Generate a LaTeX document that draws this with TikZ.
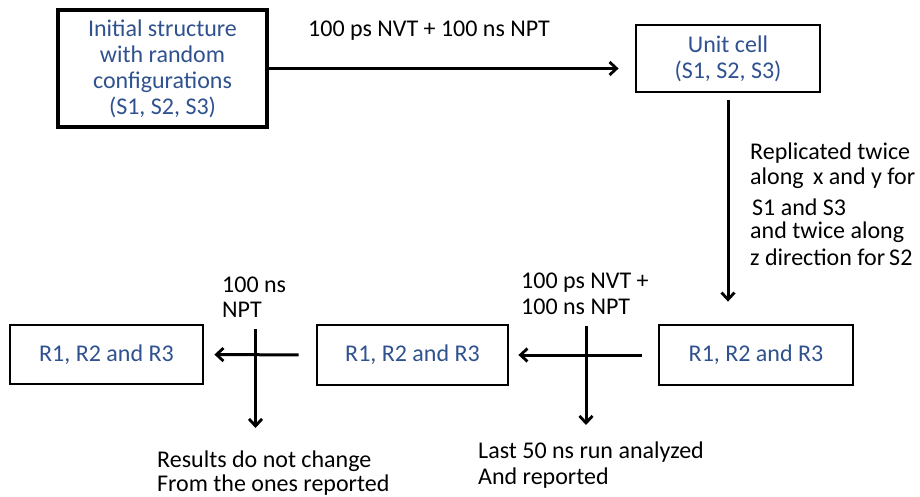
\documentclass[tikz,border=0pt]{standalone}
\usepackage{fontspec}
\setmainfont{Carlito}
\usetikzlibrary{arrows.meta}
\definecolor{boxblue}{RGB}{47,82,143}
\begin{document}
\begin{tikzpicture}[x=1pt,y=-1pt,
  box/.style={draw=black,line width=2.8pt,rectangle,inner sep=0pt,align=center,
    text=boxblue,font=\fontsize{24}{26}\selectfont},
  conn/.style={line width=3pt,-{Straight Barb[length=7pt,width=13pt,line width=2.8pt]}},
  lbl/.style={anchor=west,inner sep=0pt,font=\fontsize{24}{25}\selectfont,align=left}]
\useasboundingbox (0,0) rectangle (920,497);
\node[box,line width=3.6pt,minimum width=209pt,minimum height=117pt] (init) at (162.5,68.5)
  {Initial structure\\with random\\configurations\\(S1, S2, S3)};
\node[box,minimum width=184pt,minimum height=67pt] (unit) at (728,58.5)
  {Unit cell\\(S1, S2, S3)};
\node[box,minimum width=194pt,minimum height=60pt] (rc) at (756,355) {R1, R2 and R3};
\node[box,minimum width=191pt,minimum height=60pt] (rd) at (412.5,355) {R1, R2 and R3};
\node[box,minimum width=193pt,minimum height=59pt] (re) at (106.5,354.5) {R1, R2 and R3};

\draw[conn,shorten >=16pt] (init.east) -- (init.east -| unit.west);
\draw[conn,shorten <=7pt,shorten >=22pt] (unit.south) -- (unit.south |- rc.north);
\draw[conn,shorten <=16pt,shorten >=9pt] (rc.west) -- (rd.east);
\draw[conn,shorten <=17pt,shorten >=10pt] (rd.west) -- (re.east);

\coordinate (v1t) at (586,326);
\coordinate (v1b) at (586,425);
\coordinate (v2t) at (255.5,329);
\coordinate (v2b) at (255.5,428);
\draw[conn] (v1t) -- (v1b);
\draw[conn] (v2t) -- (v2b);

\node[lbl] (l1) at (308,31) {100 ps NVT + 100 ns NPT};
\node[lbl] (l2a) at (750,153) {Replicated twice};
\node[lbl] (l2b) at (750,178) {along\, x and y for};
\node[lbl] (l2c) at (752,207) {S1 and S3};
\node[lbl] (l2d) at (750,232) {and twice along};
\node[lbl] (l2e) at (750,257) {z direction for\,S2};
\node[lbl] (l3a) at (521,283) {100 ps NVT +};
\node[lbl] (l3b) at (521,307) {100 ns NPT};
\node[lbl] (l4a) at (222,285) {100 ns};
\node[lbl] (l4b) at (222,310) {NPT};
\node[lbl] (l5a) at (478,452) {Last 50 ns run analyzed};
\node[lbl] (l5b) at (478,478) {And reported};
\node[lbl] (l6a) at (157,461) {Results do not change};
\node[lbl] (l6b) at (157,485) {From the ones reported};
\end{tikzpicture}
\end{document}
